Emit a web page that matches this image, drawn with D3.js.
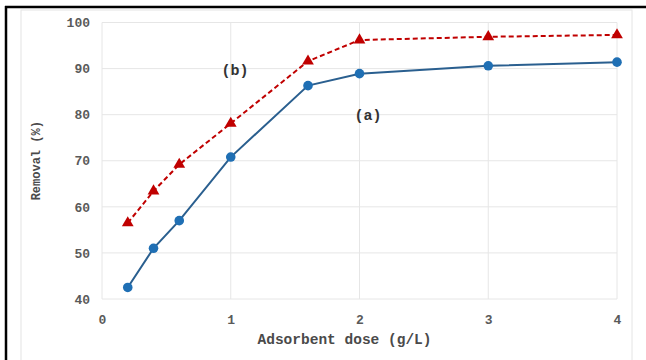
<!DOCTYPE html>
<html>
<head>
<meta charset="utf-8">
<script src="https://cdn.jsdelivr.net/npm/d3@7"></script>
<style>
  html, body { margin: 0; padding: 0; background: #fff; }
  svg { display: block; }
</style>
</head>
<body>
<svg id="chart" width="646" height="360"></svg>
<script>
// Adsorbent dose (g/L)
const doses = [0.2, 0.4, 0.6, 1, 1.6, 2, 3, 4];
// Removal (%) for curve (a)
const removalA = [42.5, 51.0, 57.0, 70.8, 86.3, 88.9, 90.6, 91.4];
// Removal (%) for curve (b)
const removalB = [56.5, 63.4, 69.2, 78.1, 91.6, 96.2, 96.9, 97.3];
const xTicks = [0, 1, 2, 3, 4];
const yTicks = [40, 50, 60, 70, 80, 90, 100];
const seriesLabels = ["(a)", "(b)"];

const svg = d3.select("#chart");
const W = 646, H = 360;
const mono = "'Liberation Mono', 'DejaVu Sans Mono', monospace";

// outer frame
svg.append("rect").attr("x", 0).attr("y", 0).attr("width", W).attr("height", H).attr("fill", "#fff");
svg.append("rect").attr("x", 21).attr("y", 10).attr("width", 611).attr("height", 360)
  .attr("fill", "#fff").attr("stroke", "#e4e4e4").attr("stroke-width", 1);
svg.append("line").attr("x1", 5).attr("x2", W).attr("y1", 7).attr("y2", 7)
  .attr("stroke", "#000").attr("stroke-width", 2.5);
svg.append("line").attr("x1", 6).attr("x2", 6).attr("y1", 6).attr("y2", H)
  .attr("stroke", "#000").attr("stroke-width", 2.5);

const x = d3.scaleLinear().domain([0, 4]).range([102, 617]);
const y = d3.scaleLinear().domain([40, 100]).range([299, 22.5]);

const g = svg.append("g");

// gridlines
g.selectAll(".hg").data(yTicks).join("line")
  .attr("x1", x(0)).attr("x2", x(4))
  .attr("y1", d => y(d)).attr("y2", d => y(d))
  .attr("stroke", "#e6e6e6").attr("stroke-width", 1);
g.selectAll(".vg").data(xTicks).join("line")
  .attr("x1", d => x(d)).attr("x2", d => x(d))
  .attr("y1", y(40)).attr("y2", y(100))
  .attr("stroke", "#e6e6e6").attr("stroke-width", 1);

// axes (labels only, no domain lines)
const xAxis = g.append("g").attr("transform", `translate(0,${y(40)})`)
  .call(d3.axisBottom(x).tickValues(xTicks).tickSize(0).tickPadding(16).tickFormat(d3.format("d")));
const yAxis = g.append("g").attr("transform", `translate(${x(0)},0)`)
  .call(d3.axisLeft(y).tickValues(yTicks).tickSize(0).tickPadding(12).tickFormat(d3.format("d")));
[xAxis, yAxis].forEach(a => {
  a.select(".domain").remove();
  a.selectAll("text").attr("font-family", mono).attr("font-size", 13)
    .attr("font-weight", "bold").attr("fill", "#5a5a5a");
});

// axis titles
svg.append("text").attr("x", (x(0) + x(4)) / 2 - 15).attr("y", 344)
  .attr("text-anchor", "middle").attr("font-family", mono).attr("font-size", 14.5)
  .attr("font-weight", "bold").attr("fill", "#4a4a4a").text("Adsorbent dose (g/L)");
svg.append("text").attr("transform", `translate(40,${(y(40) + y(100)) / 2}) rotate(-90)`)
  .attr("text-anchor", "middle").attr("font-family", mono).attr("font-size", 12)
  .attr("font-weight", "bold").attr("fill", "#4a4a4a").text("Removal (%)");

const line = d3.line().x(d => x(d[0])).y(d => y(d[1]));
const ptsA = doses.map((d, i) => [d, removalA[i]]);
const ptsB = doses.map((d, i) => [d, removalB[i]]);

// curve (b): red dashed with triangles
g.append("path").datum(ptsB).attr("d", line).attr("fill", "none")
  .attr("stroke", "#c00000").attr("stroke-width", 2).attr("stroke-dasharray", "5,3");
const tri = d3.symbol().type(d3.symbolTriangle).size(60);
g.selectAll(".tb").data(ptsB).join("path")
  .attr("transform", d => `translate(${x(d[0])},${y(d[1])})`)
  .attr("d", tri).attr("fill", "#c00000");

// curve (a): blue solid with circles
g.append("path").datum(ptsA).attr("d", line).attr("fill", "none")
  .attr("stroke", "#2a5f8f").attr("stroke-width", 2);
g.selectAll(".ca").data(ptsA).join("circle")
  .attr("cx", d => x(d[0])).attr("cy", d => y(d[1])).attr("r", 4.8)
  .attr("fill", "#1f6fb4");

// series labels
svg.append("text").attr("x", 368).attr("y", 120).attr("text-anchor", "middle")
  .attr("font-family", mono).attr("font-size", 15).attr("font-weight", "bold")
  .attr("fill", "#333").text(seriesLabels[0]);
svg.append("text").attr("x", 235).attr("y", 75).attr("text-anchor", "middle")
  .attr("font-family", mono).attr("font-size", 15).attr("font-weight", "bold")
  .attr("fill", "#333").text(seriesLabels[1]);
</script>
</body>
</html>
